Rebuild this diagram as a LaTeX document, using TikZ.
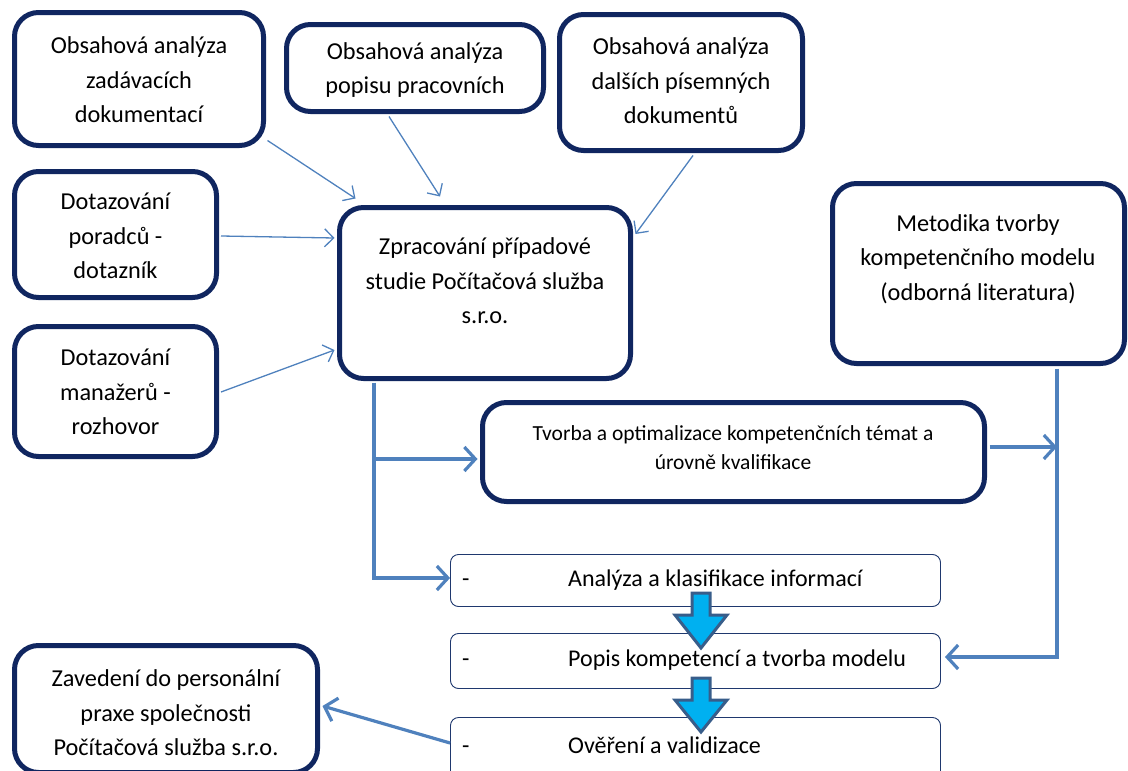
\documentclass[tikz,border=0pt]{standalone}
\usepackage{fontspec}
\setmainfont{Carlito}
\usetikzlibrary{arrows.meta,calc}
\definecolor{navy}{RGB}{16,38,96}
\definecolor{linkblue}{RGB}{79,129,189}
\definecolor{cyanfill}{RGB}{0,176,240}
\definecolor{blockedge}{RGB}{56,93,138}
\definecolor{thinedge}{RGB}{31,56,110}
\begin{document}
\begin{tikzpicture}[x=1pt,y=-1pt,
  bigbox/.style={draw=navy, line width=5pt, rounded corners=24pt, inner sep=0pt},
  smallbox/.style={draw=thinedge, line width=0.9pt, rounded corners=8pt, inner sep=0pt, minimum width=490pt},
  txt/.style={align=center, font=\fontsize{24.3}{34.5}\selectfont, inner sep=0pt},
  ltxt/.style={anchor=west, align=left, font=\fontsize{24}{28}\selectfont, inner sep=0pt},
  thinarrow/.style={draw=linkblue, line width=1.3pt, -{Straight Barb[length=9pt,width=18pt]}},
  thickarrow/.style={draw=linkblue, line width=3.2pt, -{Straight Barb[length=11pt,width=24pt]}},
  blockarrow/.style={fill=cyanfill, draw=blockedge, line width=3pt, line join=miter}
]
\useasboundingbox (0,0) rectangle (1128,771);

% boxes
\node[bigbox, minimum width=249pt, minimum height=133pt] (a1) at (139,79) {};
\node[bigbox, minimum width=257pt, minimum height=87pt] (a2) at (415,68) {};
\node[bigbox, minimum width=243pt, minimum height=136pt] (a3) at (681,82.5) {};
\node[bigbox, minimum width=202pt, minimum height=126pt] (b1) at (115.5,234.5) {};
\node[bigbox, minimum width=202pt, minimum height=130pt] (b2) at (115.5,391.5) {};
\node[bigbox, minimum width=291pt, minimum height=171pt] (c) at (485,293) {};
\node[bigbox, minimum width=292pt, minimum height=180pt] (m) at (978.5,273.5) {};
\node[bigbox, minimum width=502pt, minimum height=99pt] (t) at (733.5,452) {};
\node[bigbox, minimum width=303pt, minimum height=127pt] (z) at (166,709) {};
\node[smallbox, minimum height=52pt] (k1) at (695.5,580.5) {};
\node[smallbox, minimum height=55pt] (k2) at (695.5,661) {};
\node[smallbox, minimum height=77pt] (k3) at (695.5,756) {};

% texts
\node[txt] (a1t) at (139,80) {Obsahová analýza\\zadávacích\\dokumentací};
\node[txt] (a2t) at (415,70) {Obsahová analýza\\popisu pracovních};
\node[txt] (a3t) at (681,81) {Obsahová analýza\\dalších písemných\\dokumentů};
\node[txt] (b1t) at (115.5,236) {Dotazování\\poradců -\\dotazník};
\node[txt] (b2t) at (115.5,392) {Dotazování\\manažerů -\\rozhovor};
\node[txt] (ct) at (485,281) {Zpracování případové\\studie Počítačová služba\\s.r.o.};
\node[txt] (mt) at (978,259) {Metodika tvorby\\kompetenčního modelu\\(odborná literatura)};
\node[txt, font=\fontsize{21.5}{29}\selectfont] (tt) at (733,448) {Tvorba a optimalizace kompetenčních témat a\\úrovně kvalifikace};
\node[txt] (zt) at (166,713) {Zavedení do personální\\praxe společnosti\\Počítačová služba s.r.o.};
\node[ltxt] (k1t) at (462,580) {\makebox[106pt][l]{-}Analýza a klasifikace informací};
\node[ltxt] (k2t) at (462,660) {\makebox[106pt][l]{-}Popis kompetencí a tvorba modelu};
\node[ltxt] (k3t) at (462,745) {\makebox[106pt][l]{-}Ověření a validizace};

% thin connectors into the case study
\draw[thinarrow] ($(a1.south east)+(1.5,-7.5)$) -- ($(c.north west)+(18.5,-6.5)$);
\draw[thinarrow] ($(a2.south)+(-26,2.5)$) -- ($(c.north)+(-45,-8.5)$);
\draw[thinarrow] ($(a3.south)+(12,2.5)$) -- ($(c.east)+(2.5,-59)$);
\draw[thinarrow] ($(b1.east)+(2,1.5)$) -- ($(c.west)+(-2.5,-55)$);
\draw[thinarrow] ($(b2.east)+(2,0.5)$) -- ($(c.west)+(-2.5,57)$);

% thick connectors
\coordinate (cj) at ($(c.south)+(-111,1.5)$);
\coordinate (tw) at ($(t.west)+(-2.5,7)$);
\draw[thickarrow] (cj) |- ($(k1.west)+(0,-2.5)$);
\draw[thickarrow] (cj |- tw) -- (tw);
\coordinate (mj) at ($(m.south)+(78.5,2.5)$);
\draw[thickarrow] (mj) |- ($(k2.east)+(4,-4)$);
\coordinate (te) at ($(t.east)+(2.5,-5)$);
\draw[thickarrow] (te) -- (mj |- te);
\draw[thickarrow] ($(k3.west)+(0,-13)$) -- ($(z.east)+(2.5,-3)$);

% block arrows between steps
\draw[blockarrow, shift={(701,593)}] (-9,0) -- (9,0) -- (9,22) -- (26,22) -- (0,55) -- (-26,22) -- (-9,22) -- cycle;
\draw[blockarrow, shift={(701,678)}] (-9,0) -- (9,0) -- (9,22) -- (26,22) -- (0,54) -- (-26,22) -- (-9,22) -- cycle;
\end{tikzpicture}
\end{document}
